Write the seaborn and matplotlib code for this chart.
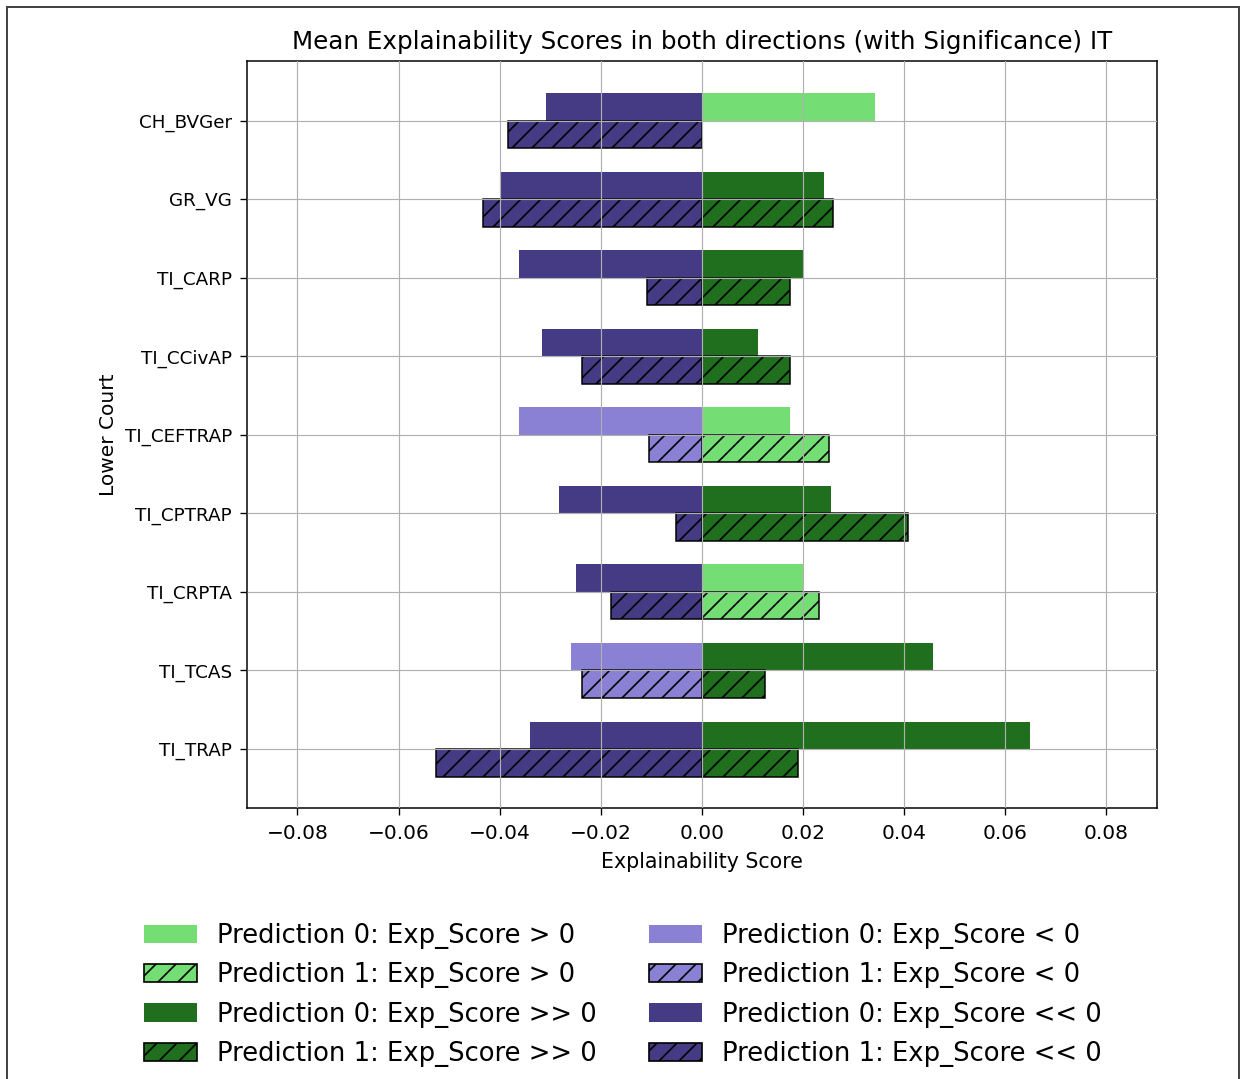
import matplotlib
matplotlib.use("Agg")
import matplotlib.pyplot as plt
from matplotlib.patches import Patch
from matplotlib.lines import Line2D
import seaborn as sns
import pandas as pd

# Lower courts (top to bottom)
courts = ["CH_BVGer", "GR_VG", "TI_CARP", "TI_CCivAP", "TI_CEFTRAP",
          "TI_CPTRAP", "TI_CRPTA", "TI_TCAS", "TI_TRAP"]

# Mean positive / negative explainability scores per prediction
p0_pos = [0.0343, 0.0241, 0.0201, 0.0111, 0.0174, 0.0256, 0.0202, 0.0457, 0.0650]
p0_neg = [-0.0309, -0.0397, -0.0362, -0.0316, -0.0361, -0.0282, -0.0248, -0.0258, -0.0339]
p1_pos = [0.0, 0.0259, 0.0175, 0.0175, 0.0252, 0.0409, 0.0232, 0.0125, 0.0191]
p1_neg = [-0.0384, -0.0432, -0.0109, -0.0238, -0.0105, -0.0051, -0.0179, -0.0238, -0.0525]

# Significance flags (True -> ">> 0" / "<< 0")
p0_pos_sig = [False, True, True, True, False, True, False, True, True]
p0_neg_sig = [True, True, True, True, False, True, True, False, True]
p1_pos_sig = [False, True, True, True, False, True, False, True, True]
p1_neg_sig = [True, True, True, True, False, True, True, False, True]

pred_levels = ["0", "1"]
COL_POS_LIGHT = "#74DE74"
COL_POS_DARK = "#1F6F1F"
COL_NEG_LIGHT = "#8A80D4"
COL_NEG_DARK = "#453B84"

rows = []
for i, c in enumerate(courts):
    rows.append((c, "0", p0_pos[i], "pos"))
    rows.append((c, "1", p1_pos[i], "pos"))
    rows.append((c, "0", p0_neg[i], "neg"))
    rows.append((c, "1", p1_neg[i], "neg"))
df = pd.DataFrame(rows, columns=["Lower Court", "Prediction", "Score", "Direction"])

sig = {}
for i in range(len(courts)):
    sig[(i, 0, "pos")] = p0_pos_sig[i]
    sig[(i, 1, "pos")] = p1_pos_sig[i]
    sig[(i, 0, "neg")] = p0_neg_sig[i]
    sig[(i, 1, "neg")] = p1_neg_sig[i]

DPI = 120
fig = plt.figure(figsize=(1241 / DPI, 1079 / DPI), dpi=DPI)
ax = fig.add_axes([0.199, 0.2512, 0.733, 0.6923])

for direction in ["pos", "neg"]:
    sns.barplot(data=df[df["Direction"] == direction], y="Lower Court", x="Score",
                hue="Prediction", hue_order=pred_levels, order=courts,
                orient="h", width=0.7, dodge=True, errorbar=None,
                legend=False, ax=ax)

for p in ax.patches:
    w = p.get_width()
    if abs(w) < 1e-12:
        p.set_visible(False)
        continue
    yc = p.get_y() + p.get_height() / 2
    idx = int(round(yc))
    pred = 0 if yc < idx else 1
    direction = "pos" if (p.get_x() + w) > 0 else "neg"
    strong = sig[(idx, pred, direction)]
    if direction == "pos":
        fc = COL_POS_DARK if strong else COL_POS_LIGHT
    else:
        fc = COL_NEG_DARK if strong else COL_NEG_LIGHT
    p.set_facecolor(fc)
    if pred == 1:
        p.set_hatch("//")
        p.set_edgecolor("black")
        p.set_linewidth(0.9)
    else:
        p.set_edgecolor("none")
        p.set_linewidth(0)

ax.set_xlim(-0.09, 0.09)
ax.set_ylim(len(courts) - 0.25, -0.76)
ax.set_xticks([-0.08, -0.06, -0.04, -0.02, 0.0, 0.02, 0.04, 0.06, 0.08])
ax.set_axisbelow(False)
ax.grid(True, color="#b0b0b0", linewidth=0.7)
ax.tick_params(axis="x", labelsize=12.1, length=4.0, pad=5.5)
ax.tick_params(axis="y", labelsize=11, length=4.0, pad=5.0)
ax.set_xlabel("Explainability Score", fontsize=12.3, labelpad=5.5)
ax.set_ylabel("Lower Court", fontsize=12.1, labelpad=4)
ax.set_title("Mean Explainability Scores in both directions (with Significance) IT",
             fontsize=14.8, pad=7)
for s in ax.spines.values():
    s.set_linewidth(0.9)

handles = [
    Patch(facecolor=COL_POS_LIGHT, edgecolor="none", label="Prediction 0: Exp_Score > 0"),
    Patch(facecolor=COL_POS_LIGHT, edgecolor="black", hatch="//", label="Prediction 1: Exp_Score > 0"),
    Patch(facecolor=COL_POS_DARK, edgecolor="none", label="Prediction 0: Exp_Score >> 0"),
    Patch(facecolor=COL_POS_DARK, edgecolor="black", hatch="//", label="Prediction 1: Exp_Score >> 0"),
    Patch(facecolor=COL_NEG_LIGHT, edgecolor="none", label="Prediction 0: Exp_Score < 0"),
    Patch(facecolor=COL_NEG_LIGHT, edgecolor="black", hatch="//", label="Prediction 1: Exp_Score < 0"),
    Patch(facecolor=COL_NEG_DARK, edgecolor="none", label="Prediction 0: Exp_Score << 0"),
    Patch(facecolor=COL_NEG_DARK, edgecolor="black", hatch="//", label="Prediction 1: Exp_Score << 0"),
]
fig.legend(handles=handles, loc="center", bbox_to_anchor=(0.502, 0.078), ncol=2,
           frameon=False, fontsize=15.5, handlelength=2.05, handleheight=0.7,
           handletextpad=0.8, columnspacing=2.0, labelspacing=0.52)

# thin frame around the figure
for xs, ys in [((0.0056, 0.0056), (0.0, 0.9935)),
               ((0.0056, 0.9984), (0.9935, 0.9935)),
               ((0.9984, 0.9984), (0.0, 0.9935))]:
    fig.add_artist(Line2D(xs, ys, transform=fig.transFigure, color="#444444", linewidth=1.2))

fig.savefig("out.png", dpi=DPI)
